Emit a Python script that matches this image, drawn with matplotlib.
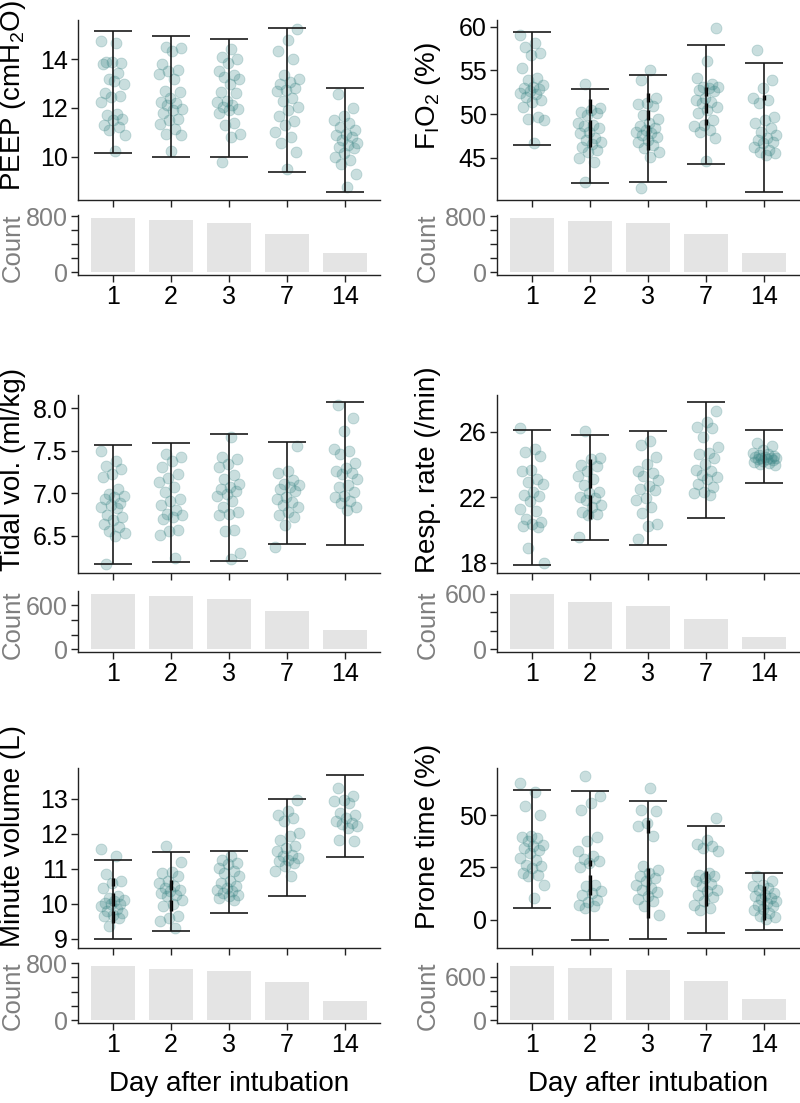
import numpy as np
import matplotlib.pyplot as plt

plt.rcParams['font.family'] = ['Liberation Sans', 'DejaVu Sans']
plt.rcParams['mathtext.fontset'] = 'custom'
plt.rcParams['mathtext.rm'] = 'Liberation Sans'

DAYS = ['1', '2', '3', '7', '14']

# ---- PEEP ----
peep_points = [
    [14.75, 14.65, 13.9, 13.85, 13.9, 13.8, 13.45, 13.2, 13.0, 13.1, 12.6, 12.5,
     12.45, 12.25, 11.75, 11.7, 11.55, 11.5, 11.3, 11.2, 11.1, 10.9, 10.25],
    [14.5, 14.45, 14.35, 13.8, 13.55, 13.5, 13.4, 13.2, 12.7, 12.65, 12.4, 12.25,
     12.2, 12.1, 11.95, 11.9, 11.8, 11.55, 11.5, 11.35, 11.15, 10.95, 10.9, 10.25],
    [14.42, 14.1, 14.02, 13.85, 13.5, 13.35, 13.28, 13.2, 13.0, 12.65, 12.6, 12.3,
     12.25, 12.1, 12.05, 11.95, 11.9, 11.8, 11.4, 11.3, 10.95, 10.8, 9.78],
    [15.25, 14.8, 14.35, 14.0, 13.35, 13.2, 13.05, 13.0, 12.8, 12.75, 12.7, 12.4,
     12.3, 12.05, 11.9, 11.65, 11.45, 11.3, 11.0, 10.8, 10.55, 10.2, 9.5],
    [12.55, 12.0, 11.65, 11.5, 11.4, 11.2, 11.1, 10.95, 10.9, 10.8, 10.7, 10.55,
     10.5, 10.4, 10.35, 10.15, 10.0, 9.85, 9.7, 9.3, 8.75],
]
peep_lo = [10.16, 10.0, 10.01, 9.39, 8.54]
peep_hi = [15.17, 14.93, 14.82, 15.26, 12.8]
peep_count = [776, 738, 700, 540, 272]

# ---- FiO2 ----
fio2_points = [
    [59.05, 58.1, 57.7, 56.95, 56.75, 55.25, 54.1, 53.9, 53.35, 53.15, 52.95, 52.85,
     52.6, 52.4, 52.3, 52.0, 51.6, 51.4, 50.85, 49.7, 49.5, 49.35, 46.7],
    [53.5, 50.7, 50.5, 50.3, 50.1, 49.9, 48.95, 48.8, 48.7, 48.4, 48.0, 47.8, 47.25,
     47.05, 46.85, 46.65, 46.3, 45.9, 45.7, 44.96, 44.58, 42.3],
    [55.05, 53.9, 51.8, 51.25, 51.15, 50.95, 49.9, 49.5, 48.95, 48.6, 48.4, 48.2,
     48.0, 47.8, 47.6, 47.45, 47.05, 46.85, 46.5, 46.1, 45.7, 45.15, 41.55],
    [59.8, 56.1, 54.1, 53.5, 53.15, 53.1, 53.0, 52.75, 52.6, 51.8, 51.6, 51.4, 51.25,
     50.85, 50.5, 50.1, 49.35, 48.8, 48.6, 48.2, 48.0, 47.25, 44.6],
    [57.3, 53.9, 52.95, 51.8, 51.6, 51.25, 49.7, 49.35, 48.95, 48.4, 48.0, 47.6,
     47.25, 47.05, 46.85, 46.7, 46.3, 45.9, 45.7, 45.55, 45.35],
]
fio2_lo = [46.49, 42.15, 42.3, 44.28, 41.08]
fio2_hi = [59.43, 52.92, 54.52, 57.9, 55.8]
fio2_count = [776, 734, 700, 540, 273]

# ---- Tidal volume ----
tidal_points = [
    [7.50, 7.38, 7.32, 7.28, 7.22, 7.19, 7.05, 6.99, 6.97, 6.95, 6.93, 6.88, 6.86,
     6.84, 6.82, 6.74, 6.72, 6.68, 6.64, 6.60, 6.55, 6.53, 6.50, 6.17],
    [7.46, 7.42, 7.38, 7.31, 7.22, 7.18, 7.13, 7.07, 7.01, 6.93, 6.91, 6.86, 6.80,
     6.76, 6.74, 6.72, 6.70, 6.57, 6.55, 6.51, 6.24],
    [7.66, 7.42, 7.40, 7.34, 7.31, 7.21, 7.17, 7.11, 7.07, 7.05, 7.03, 6.99, 6.97,
     6.91, 6.84, 6.78, 6.76, 6.74, 6.57, 6.56, 6.29, 6.22],
    [7.55, 7.26, 7.24, 7.15, 7.11, 7.09, 7.07, 7.05, 7.03, 6.95, 6.93, 6.90, 6.86,
     6.84, 6.78, 6.74, 6.72, 6.62, 6.37],
    [8.04, 7.88, 7.73, 7.52, 7.50, 7.46, 7.36, 7.30, 7.26, 7.24, 7.22, 7.17, 7.09,
     7.07, 7.01, 6.97, 6.95, 6.91, 6.88, 6.84, 6.80],
]
tidal_lo = [6.17, 6.19, 6.20, 6.40, 6.39]
tidal_hi = [7.57, 7.59, 7.70, 7.60, 8.07]
tidal_count = [757, 720, 688, 526, 263]

# ---- Respiratory rate ----
resp_points = [
    [26.25, 24.94, 24.8, 24.53, 23.7, 23.6, 23.14, 22.93, 22.8, 22.35, 22.14, 22.1,
     21.77, 21.32, 21.2, 20.7, 20.49, 20.38, 20.28, 20.18, 18.93, 18.0],
    [26.04, 24.42, 24.32, 24.0, 23.9, 23.6, 23.3, 23.14, 22.77, 22.35, 22.25, 22.04,
     21.94, 21.83, 21.52, 21.42, 21.1, 21.0, 20.9, 19.55],
    [25.46, 25.2, 24.49, 24.05, 23.6, 23.5, 23.3, 23.08, 22.7, 22.52, 22.46, 21.98,
     21.83, 21.42, 21.07, 20.38, 20.28, 19.45],
    [27.28, 26.6, 26.33, 26.25, 25.67, 25.09, 24.74, 24.63, 24.42, 24.05, 23.7, 23.6,
     23.39, 23.22, 23.14, 22.8, 22.66, 22.35, 22.25, 22.14],
    [25.3, 25.15, 24.88, 24.74, 24.63, 24.6, 24.53, 24.5, 24.47, 24.42, 24.42, 24.38,
     24.34, 24.32, 24.26, 24.22, 24.18, 24.1, 24.05, 24.0],
]
resp_lo = [17.85, 19.37, 19.12, 20.76, 22.87]
resp_hi = [26.12, 25.8, 26.08, 27.82, 26.12]
resp_count = [600, 513, 473, 327, 135]

# ---- Minute volume ----
minute_points = [
    [11.56, 11.36, 10.86, 10.64, 10.6, 10.45, 10.21, 10.17, 10.12, 10.07, 10.02,
     10.0, 9.98, 9.93, 9.85, 9.79, 9.74, 9.69, 9.64, 9.6, 9.36],
    [11.64, 11.18, 10.9, 10.88, 10.79, 10.64, 10.6, 10.5, 10.45, 10.4, 10.36, 10.31,
     10.26, 10.21, 10.12, 10.0, 9.93, 9.64, 9.6, 9.5, 9.31],
    [11.36, 11.26, 11.17, 11.12, 11.02, 10.93, 10.88, 10.79, 10.64, 10.6, 10.5,
     10.45, 10.4, 10.36, 10.31, 10.26, 10.21, 10.17, 10.12],
    [12.97, 12.64, 12.54, 12.45, 12.35, 12.02, 11.93, 11.83, 11.66, 11.59, 11.5,
     11.4, 11.36, 11.31, 11.26, 11.21, 11.17, 11.07, 10.93, 10.79],
    [13.3, 13.07, 12.97, 12.92, 12.88, 12.59, 12.54, 12.45, 12.35, 12.31, 12.26,
     12.21, 12.16, 11.83, 11.78],
]
minute_lo = [9.0, 9.22, 9.74, 10.23, 11.32]
minute_hi = [11.26, 11.49, 11.5, 12.98, 13.66]
minute_count = [763, 721, 689, 536, 273]

# ---- Prone time ----
prone_points = [
    [65.5, 61.0, 54.6, 50.3, 39.9, 39.6, 39.1, 37.5, 35.9, 35.1, 34.3, 33.2, 32.0,
     29.6, 28.8, 26.4, 25.6, 24.8, 22.4, 21.6, 20.8, 16.8, 10.4],
    [69.0, 59.1, 55.9, 52.7, 39.6, 37.5, 32.7, 30.4, 29.1, 28.0, 27.2, 25.1, 16.8,
     16.0, 13.6, 12.8, 12.0, 9.6, 8.3, 7.2, 6.4, 5.6],
    [63.1, 52.7, 51.9, 46.3, 44.7, 40.3, 25.6, 24.0, 22.4, 21.1, 20.0, 18.4, 16.8,
     15.2, 14.1, 13.1, 11.2, 9.9, 8.8, 6.4, 2.4],
    [48.7, 38.3, 36.4, 35.1, 34.3, 32.7, 22.4, 21.6, 20.8, 20.0, 18.4, 17.3, 16.0,
     14.4, 13.6, 12.0, 10.9, 8.8, 7.2, 5.6, 4.5],
    [20.8, 18.4, 16.8, 16.0, 15.2, 14.1, 12.8, 12.0, 11.2, 10.4, 9.9, 8.8, 8.0, 7.2,
     6.4, 5.1, 4.5, 3.2, 1.9, 1.3, 0.3],
]
prone_lo = [5.6, -9.6, -9.1, -6.4, -4.8]
prone_hi = [62.1, 61.5, 56.7, 45.0, 22.4]
prone_count = [750, 718, 691, 545, 286]

# thick dark segments along the bars: (day index, low, high)
peep_thick = []
fio2_thick = [(1, 46.25, 49.3), (1, 50.1, 51.7), (2, 45.9, 48.8), (2, 49.3, 50.5),
              (2, 51.4, 52.4), (3, 48.8, 49.5), (3, 50.1, 51.25), (3, 52.1, 53.15),
              (4, 51.6, 52.2)]
tidal_thick = []
resp_thick = [(1, 20.7, 22.14), (1, 22.56, 24.32)]
minute_thick = [(0, 9.45, 9.79), (0, 9.93, 10.31), (0, 10.5, 10.74),
                (1, 9.79, 10.12), (1, 10.4, 10.69)]
prone_thick = [(1, 12.0, 21.6), (1, 25.6, 28.8), (2, 0.8, 24.8), (2, 41.5, 47.9),
               (3, 6.4, 23.2), (4, 0.0, 16.0)]

panels = [
    (r'PEEP (cmH$\mathregular{_2}$O)', peep_points, peep_lo, peep_hi, peep_thick,
     peep_count, (8.23, 15.6), [10, 12, 14], '{:.0f}', 800),
    (r'$\mathregular{F_IO_2}$ (%)', fio2_points, fio2_lo, fio2_hi, fio2_thick,
     fio2_count, (40.2, 60.76), [45, 50, 55, 60], '{:.0f}', 800),
    ('Tidal vol. (ml/kg)', tidal_points, tidal_lo, tidal_hi, tidal_thick,
     tidal_count, (6.06, 8.155), [6.5, 7.0, 7.5, 8.0], '{:.1f}', 600),
    ('Resp. rate (/min)', resp_points, resp_lo, resp_hi, resp_thick,
     resp_count, (17.38, 28.26), [18, 22, 26], '{:.0f}', 600),
    ('Minute volume (L)', minute_points, minute_lo, minute_hi, minute_thick,
     minute_count, (8.74, 13.87), [9, 10, 11, 12, 13], '{:.0f}', 800),
    ('Prone time (%)', prone_points, prone_lo, prone_hi, prone_thick,
     prone_count, (-13.6, 72.7), [0, 25, 50], '{:.0f}', 600),
]

W, H = 800, 1103
COL_X = [78, 497]
AX_W = 302
ROWS = [(20, 200, 215, 275), (395, 573, 591, 652), (768, 948, 963, 1023)]

PT_COLOR = '#3a8585'
LINE_COLOR = '#1a1a1a'
AXIS_COLOR = '#222222'
GREY_TXT = '#7f7f7f'
BAR_COLOR = '#e4e4e4'
TICK_FS = 18
LABEL_FS = 20
COUNT_FS = 18.5


def frac(x0, y_top, w, y_bot):
    return [x0 / W, 1 - y_bot / H, w / W, (y_bot - y_top) / H]


def style_axes(ax):
    for s in ['top', 'right']:
        ax.spines[s].set_visible(False)
    for s in ['left', 'bottom']:
        ax.spines[s].set_color(AXIS_COLOR)
        ax.spines[s].set_linewidth(1.0)
    ax.tick_params(which='both', length=5, width=1.0, color=AXIS_COLOR,
                   labelsize=TICK_FS, pad=2.5)


fig = plt.figure(figsize=(W / 100, H / 100), dpi=100)
xpos = np.arange(len(DAYS))

for i, (label, pts, lo, hi, thick, counts, ylim, yticks, fmt, cmax) in enumerate(panels):
    row, col = divmod(i, 2)
    top, bot, ctop, cbot = ROWS[row]
    x0 = COL_X[col]
    lab_x = -0.215 if col == 0 else -0.23

    ax = fig.add_axes(frac(x0, top, AX_W, bot))
    style_axes(ax)
    for j, vals in enumerate(pts):
        n = len(vals)
        jitter = ((np.arange(n) * 0.618034 + 0.3 * j) % 1 - 0.5) * 0.42
        ax.scatter(xpos[j] + jitter, vals, s=62, color=PT_COLOR, alpha=0.27,
                   edgecolors=PT_COLOR, linewidths=0.6, zorder=2)
    for j, a, b in thick:
        ax.vlines(xpos[j], a, b, color='black', lw=2.4, zorder=3)
    ax.vlines(xpos, lo, hi, color=LINE_COLOR, lw=1.2, zorder=3)
    ax.hlines(lo, xpos - 0.33, xpos + 0.33, color=LINE_COLOR, lw=1.2, zorder=3)
    ax.hlines(hi, xpos - 0.33, xpos + 0.33, color=LINE_COLOR, lw=1.2, zorder=3)
    ax.set_xlim(-0.6, 4.6)
    ax.set_ylim(*ylim)
    ax.set_xticks(xpos)
    ax.set_xticklabels([])
    ax.set_yticks(yticks)
    ax.set_yticklabels([fmt.format(v) for v in yticks], color='black')
    ax.set_ylabel(label, fontsize=LABEL_FS, color='black')
    ax.yaxis.label.set_va('center')
    ax.yaxis.set_label_coords(lab_x, 0.62 if row == 2 else 0.58)

    cax = fig.add_axes(frac(x0, ctop, AX_W, cbot))
    style_axes(cax)
    cax.bar(xpos, counts, width=0.75, color=BAR_COLOR, zorder=1)
    cax.set_xlim(-0.6, 4.6)
    cmx = max(counts)
    cax.set_ylim(-0.05 * cmx, 1.05 * cmx)
    cax.set_xticks(xpos)
    cax.set_xticklabels(DAYS, color='black')
    cax.set_yticks([0, cmax])
    cax.set_yticks(np.arange(0, cmax + 1, 200), minor=True)
    cax.set_yticklabels(['0', str(cmax)], color=GREY_TXT)
    cax.set_ylabel('Count', fontsize=COUNT_FS, color=GREY_TXT)
    cax.yaxis.label.set_va('center')
    cax.yaxis.set_label_coords(lab_x, 0.45)

    if row == 2:
        cax.set_xlabel('Day after intubation', fontsize=LABEL_FS, labelpad=10)

fig.savefig('out.png', dpi=100)
